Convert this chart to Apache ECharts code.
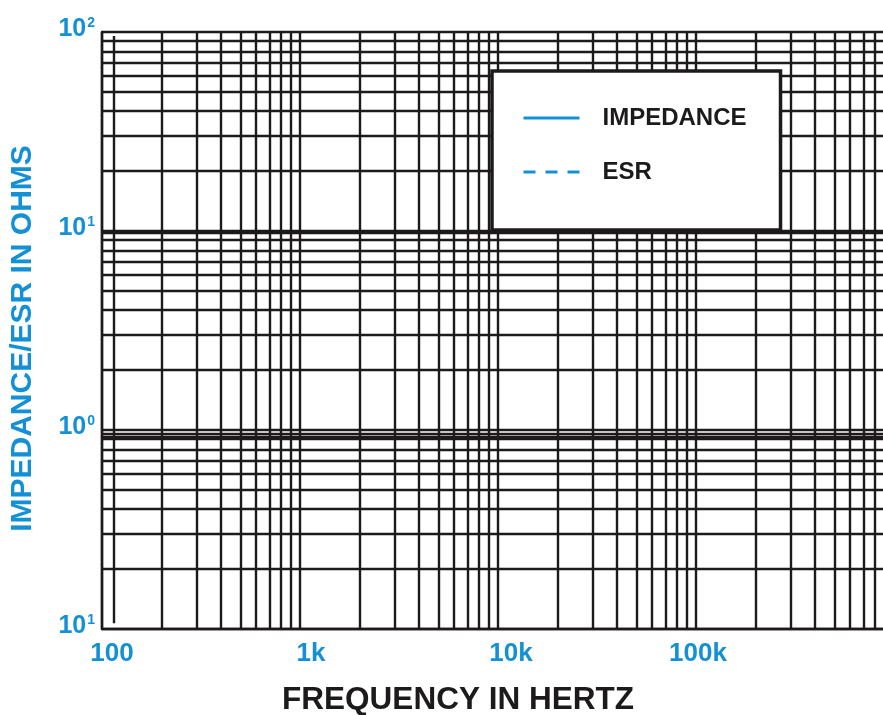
<!DOCTYPE html>
<html>
<head>
<meta charset="utf-8">
<script src="https://cdn.jsdelivr.net/npm/echarts@6/dist/echarts.min.js"></script>
<style>
  html, body { margin: 0; padding: 0; background: #fff; }
  #chart { width: 883px; height: 715px; }
</style>
</head>
<body>
<div id="chart"></div>
<script>
// axis ranges
const xMin = 100, xMax = 1000000;
const yMin = 0.1, yMax = 100;

// tick labels (one per decade)
const xTickLabels = ["100", "1k", "10k", "100k", ""];
const yTickSup = ["1", "0", "1", "2"];   // 0.1, 1, 10, 100 as printed

// grid: decades and the 2..9 lines inside them
const xDecades = [100, 1000, 10000, 100000];
const yDecades = [0.1, 1, 10];
const minorSteps = [2, 3, 4, 5, 6, 7, 8, 9];
const yExtraLines = [9.75, 0.965, 0.93];
// short vertical line near the left edge
const markerFreq = 115;
const markerSpan = [0.107, 95.5];

const legendNames = ["IMPEDANCE", "ESR"];

const blue = "#1491d6";
const ink = "#1c1a1a";
const font = "'Liberation Sans', Arial, sans-serif";

// the printed x labels sit a little right of their grid line
const xLabelNudge = [20, 22, 26, 4, 0];

var chart = echarts.init(document.getElementById("chart"));

function minorLines(decades) {
    var out = [];
    decades.forEach(function (d) {
        minorSteps.forEach(function (m) { out.push(m * d); });
    });
    return out;
}

var gridMarks = [];
minorLines(xDecades).forEach(function (v) { gridMarks.push({xAxis: v}); });
minorLines(yDecades).concat(yExtraLines).forEach(function (v) { gridMarks.push({yAxis: v}); });
gridMarks.push([{coord: [markerFreq, markerSpan[0]]}, {coord: [markerFreq, markerSpan[1]]}]);

var xRich = {};
xLabelNudge.forEach(function (p, i) {
    xRich["t" + i] = {
        fontFamily: font, fontSize: 26, fontWeight: "bold", color: blue,
        padding: [0, 0, 0, p]
    };
});

var option = {
    animation: false,
    grid: { left: 102, top: 32, width: 792, bottom: 86, outerBoundsMode: "none", containLabel: false },
    legend: {
        data: legendNames,
        orient: "vertical",
        left: 492, top: 71,
        z: 20,
        itemWidth: 56, itemHeight: 14, itemGap: 30,
        padding: [35, 34, 46, 30],
        backgroundColor: "#fff",
        borderColor: ink, borderWidth: 3.5,
        selectedMode: false,
        itemStyle: { opacity: 0 },
        lineStyle: { width: 3 },
        textStyle: {
            fontFamily: font, fontSize: 24, fontWeight: "bold", color: ink,
            lineHeight: 24, padding: [0, 0, 0, 18]
        }
    },
    xAxis: {
        type: "log", logBase: 10, min: xMin, max: xMax,
        name: "FREQUENCY IN HERTZ",
        nameLocation: "middle", nameGap: 55,
        nameTextStyle: {
            fontFamily: font, fontSize: 31.5, fontWeight: "bold", color: ink,
            padding: [0, 80, 0, 0]
        },
        axisLine: { show: true, onZero: false, lineStyle: { color: ink, width: 2.4 } },
        axisTick: { show: false },
        axisLabel: {
            margin: 12,
            formatter: function (v) {
                var i = Math.round(Math.log10(v)) - 2;
                return xTickLabels[i] ? "{t" + i + "|" + xTickLabels[i] + "}" : "";
            },
            rich: xRich
        },
        splitLine: { show: true, lineStyle: { color: ink, width: 2.4 } }
    },
    yAxis: {
        type: "log", logBase: 10, min: yMin, max: yMax,
        name: "IMPEDANCE/ESR IN OHMS",
        nameLocation: "middle", nameGap: 64,
        nameTextStyle: {
            fontFamily: font, fontSize: 30, fontWeight: "bold", color: blue,
            padding: [0, 16, 0, 0]
        },
        axisLine: { show: true, lineStyle: { color: ink, width: 2.4 } },
        axisTick: { show: false },
        axisLabel: {
            margin: 7,
            padding: [0, 0, 6, 0],
            formatter: function (v) {
                var i = Math.round(Math.log10(v)) + 1;
                return "{b|10}{s|" + yTickSup[i] + "}";
            },
            rich: {
                b: { fontFamily: font, fontSize: 25, fontWeight: "bold", color: blue, lineHeight: 26 },
                s: { fontFamily: font, fontSize: 14, fontWeight: "bold", color: blue, lineHeight: 14,
                     verticalAlign: "top", padding: [0, 0, 0, 1] }
            }
        },
        splitLine: { show: true, lineStyle: { color: ink, width: 2.4 } }
    },
    series: [
        {
            name: "grid",
            type: "line",
            data: [],
            silent: true,
            markLine: {
                silent: true,
                symbol: ["none", "none"],
                label: { show: false },
                lineStyle: { color: ink, width: 2.4, type: "solid" },
                emphasis: { disabled: true },
                data: gridMarks
            }
        },
        {
            name: "IMPEDANCE", type: "line", data: [], symbol: "none", showSymbol: false,
            itemStyle: { color: blue },
            lineStyle: { color: blue, width: 3 }
        },
        {
            name: "ESR", type: "line", data: [], symbol: "none", showSymbol: false,
            itemStyle: { color: blue },
            lineStyle: { color: blue, width: 3, type: [12, 10] }
        }
    ]
};

chart.setOption(option);
</script>
</body>
</html>
